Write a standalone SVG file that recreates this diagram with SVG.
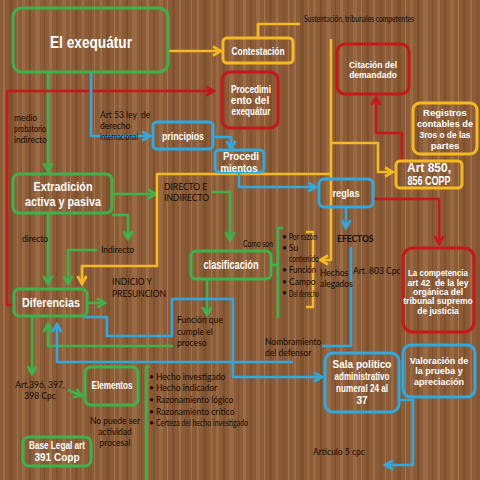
<svg xmlns="http://www.w3.org/2000/svg" width="480" height="480" viewBox="0 0 480 480">
<defs>
<pattern id="wood" x="0" y="0" width="97" height="480" patternUnits="userSpaceOnUse">
<rect width="97" height="480" fill="#8b5c37"/>
<rect x="3" width="2" height="480" fill="#a67650" opacity="0.7"/>
<rect x="9" width="4" height="480" fill="#744726" opacity="0.5"/>
<rect x="17" width="1" height="480" fill="#b4875d" opacity="0.6"/>
<rect x="22" width="3" height="480" fill="#9c6d45" opacity="0.8"/>
<rect x="29" width="2" height="480" fill="#6d4122" opacity="0.5"/>
<rect x="35" width="5" height="480" fill="#a2734b" opacity="0.6"/>
<rect x="44" width="1" height="480" fill="#704424" opacity="0.6"/>
<rect x="49" width="3" height="480" fill="#ae8056" opacity="0.5"/>
<rect x="56" width="2" height="480" fill="#78492a" opacity="0.6"/>
<rect x="62" width="4" height="480" fill="#9e6f47" opacity="0.7"/>
<rect x="70" width="1" height="480" fill="#b58a60" opacity="0.6"/>
<rect x="75" width="3" height="480" fill="#744626" opacity="0.5"/>
<rect x="82" width="2" height="480" fill="#a87a52" opacity="0.6"/>
<rect x="88" width="4" height="480" fill="#7c4e2c" opacity="0.4"/>
<rect x="94" width="1" height="480" fill="#b0835a" opacity="0.6"/>
</pattern>
<marker id="ag" viewBox="0 0 12 12" markerWidth="12" markerHeight="12" refX="10" refY="6" orient="auto" markerUnits="userSpaceOnUse"><path d="M2,1.5 L10,6 L2,10.5" fill="none" stroke="#3cb44b" stroke-width="2.6"/></marker>
<marker id="ay" viewBox="0 0 12 12" markerWidth="12" markerHeight="12" refX="10" refY="6" orient="auto" markerUnits="userSpaceOnUse"><path d="M2,1.5 L10,6 L2,10.5" fill="none" stroke="#f6b921" stroke-width="2.6"/></marker>
<marker id="ar" viewBox="0 0 12 12" markerWidth="12" markerHeight="12" refX="10" refY="6" orient="auto" markerUnits="userSpaceOnUse"><path d="M2,1.5 L10,6 L2,10.5" fill="none" stroke="#c8161d" stroke-width="2.6"/></marker>
<marker id="ab" viewBox="0 0 12 12" markerWidth="12" markerHeight="12" refX="10" refY="6" orient="auto" markerUnits="userSpaceOnUse"><path d="M2,1.5 L10,6 L2,10.5" fill="none" stroke="#2fa9e0" stroke-width="2.6"/></marker>
</defs>
<style>
.box{fill:none;stroke-width:3}
.g{stroke:#3cb44b}.y{stroke:#f6b921}.r{stroke:#c8161d}.b{stroke:#2fa9e0}
.ln{fill:none;stroke-width:2.6;stroke-linejoin:round}
.w{fill:#ffffff;font-family:"Liberation Sans",Arial,sans-serif;font-weight:bold;text-anchor:middle}
.d{fill:#120a04;font-family:Lato,"Open Sans",sans-serif;font-size:8.5px}
.c{text-anchor:middle}
</style>
<rect width="480" height="480" fill="url(#wood)"/>

<g id="connectors">
<polyline class="ln g" points="48,72 48,171" marker-end="url(#ag)"/>
<polyline class="ln g" points="112,194 156,194" marker-end="url(#ag)"/>
<polyline class="ln g" points="112,215 128,215 128,239" marker-end="url(#ag)"/>
<polyline class="ln g" points="48,213 48,284" marker-end="url(#ag)"/>
<polyline class="ln g" points="97,250 68,250 68,284" marker-end="url(#ag)"/>
<polyline class="ln g" points="87,303 105,303" marker-end="url(#ag)"/>
<polyline class="ln g" points="212,192 230,192 230,240" marker-end="url(#ag)"/>
<polyline class="ln g" points="207,279 207,315" marker-end="url(#ag)"/>
<polyline class="ln g" points="173,346 48,346 48,324" marker-end="url(#ag)"/>
<polyline class="ln g" points="32,316 32,374" marker-end="url(#ag)"/>
<polyline class="ln g" points="68,390 82,396" marker-end="url(#ag)"/>
<path class="ln g" d="M283,228 L278,228 L278,318 M272,265 L278,265"/>
<path class="ln g" d="M150,367 L146,367 L146,480"/>

<polyline class="ln y" points="168,51 221,51" marker-end="url(#ay)"/>
<polyline class="ln y" points="258,38 258,24 300,24"/>
<polyline class="ln y" points="331,39 331,260 320,260" marker-end="url(#ay)"/>
<path class="ln y" d="M306,232 L313,232 L313,307 L306,307"/>
<polyline class="ln y" points="331,174 157,174 157,266 82,266 82,284" marker-end="url(#ay)"/>
<polyline class="ln y" points="331,143 378,143 378,172 393,172" marker-end="url(#ay)"/>

<polyline class="ln r" points="14,305 7,305 7,91 214,91" marker-end="url(#ar)"/>
<polyline class="ln r" points="402,160 402,133 376,133 376,97" marker-end="url(#ar)"/>
<polyline class="ln r" points="373,199 439,199 439,244" marker-end="url(#ar)"/>

<polyline class="ln b" points="91,72 91,136 150,136" marker-end="url(#ab)"/>
<polyline class="ln b" points="213,137 231,137 231,149" marker-end="url(#ab)"/>
<polyline class="ln b" points="239,172 239,187 316,187" marker-end="url(#ab)"/>
<polyline class="ln b" points="346,207 346,228" marker-end="url(#ab)"/>
<polyline class="ln b" points="351,247 351,346 322,346"/>
<polyline class="ln b" points="84,317 107,317 107,336 172,336 172,299 233,299 233,377 322,377" marker-end="url(#ab)"/>
<polyline class="ln b" points="293,362 57,362 57,324" marker-end="url(#ab)"/>
<polyline class="ln b" points="399,400 413,400 413,465 385,465" marker-end="url(#ab)"/>
</g>

<g id="exequatur"><rect class="box g" x="13" y="8" width="155" height="64" rx="9"/><text class="w" x="91" y="48" font-size="17" textLength="82" lengthAdjust="spacingAndGlyphs">El exequátur</text></g>
<g id="contestacion"><rect class="box y" x="223" y="38" width="70" height="25" rx="4"/><text class="w" x="258" y="55" font-size="11" textLength="53" lengthAdjust="spacingAndGlyphs">Contestación</text></g>
<g id="procedimiento-exequatur"><rect class="box r" x="222" y="72" width="56" height="56" rx="8"/>
<text class="w" x="251" y="93" font-size="10" textLength="40" lengthAdjust="spacingAndGlyphs">Procedimi</text>
<text class="w" x="250" y="104" font-size="10">ento del</text>
<text class="w" x="251" y="115" font-size="10" textLength="39" lengthAdjust="spacingAndGlyphs">exequátur</text></g>
<g id="principios"><rect class="box b" x="153" y="122" width="60" height="27" rx="4"/><text class="w" x="183" y="140" font-size="11" textLength="42" lengthAdjust="spacingAndGlyphs">principios</text></g>
<g id="procedimientos"><rect class="box b" x="215" y="150" width="49" height="22" rx="4"/>
<text class="w" x="241" y="160" font-size="10.5" textLength="36" lengthAdjust="spacingAndGlyphs">Procedi</text>
<text class="w" x="239" y="171.5" font-size="10.5" textLength="37" lengthAdjust="spacingAndGlyphs">mientos</text></g>
<g id="reglas"><rect class="box b" x="319" y="179" width="54" height="28" rx="5"/><text class="w" x="346" y="197" font-size="11" textLength="27" lengthAdjust="spacingAndGlyphs">reglas</text></g>
<g id="citacion"><rect class="box r" x="337" y="44" width="72" height="50" rx="8"/>
<text class="w" x="373" y="68" font-size="8.5">Citación del</text>
<text class="w" x="373" y="78" font-size="8.5">demandado</text></g>
<g id="registros"><rect class="box y" x="413" y="103" width="64" height="51" rx="7"/>
<text class="w" x="445" y="116" font-size="9.5">Registros</text>
<text class="w" x="445" y="127" font-size="9.5" textLength="56" lengthAdjust="spacingAndGlyphs">contables de</text>
<text class="w" x="445" y="138" font-size="9.5" textLength="51" lengthAdjust="spacingAndGlyphs">3ros o de las</text>
<text class="w" x="445" y="149" font-size="9.5">partes</text></g>
<g id="art850"><rect class="box y" x="396" y="161" width="66" height="27" rx="4"/>
<text class="w" x="429" y="172" font-size="12">Art 850,</text>
<text class="w" x="429" y="185" font-size="12" textLength="43" lengthAdjust="spacingAndGlyphs">856 COPP</text></g>
<g id="competencia"><rect class="box r" x="403" y="248" width="71" height="84" rx="10"/>
<text class="w" x="438" y="276" font-size="8.5" textLength="60" lengthAdjust="spacingAndGlyphs">La competencia</text>
<text class="w" x="438" y="286" font-size="8.5" xml:space="preserve">art 42  de la ley</text>
<text class="w" x="438" y="295" font-size="8.5">orgánica del</text>
<text class="w" x="438" y="304" font-size="8.5">tribunal supremo</text>
<text class="w" x="438" y="314" font-size="8.5">de justicia</text></g>
<g id="clasificacion"><rect class="box g" x="191" y="251" width="80" height="28" rx="5"/><text class="w" x="231" y="269" font-size="12" textLength="55" lengthAdjust="spacingAndGlyphs">clasificación</text></g>
<g id="extradicion"><rect class="box g" x="13" y="174" width="99" height="39" rx="6"/>
<text class="w" x="63" y="191" font-size="13" textLength="59" lengthAdjust="spacingAndGlyphs">Extradición</text>
<text class="w" x="63" y="206" font-size="13" textLength="76" lengthAdjust="spacingAndGlyphs">activa y pasiva</text></g>
<g id="diferencias"><rect class="box g" x="14" y="289" width="73" height="27" rx="5"/><text class="w" x="51" y="307" font-size="13" textLength="58" lengthAdjust="spacingAndGlyphs">Diferencias</text></g>
<g id="sala"><rect class="box b" x="325" y="353" width="74" height="59" rx="8"/>
<text class="w" x="362" y="368" font-size="10">Sala politico</text>
<text class="w" x="362" y="380" font-size="10" textLength="55" lengthAdjust="spacingAndGlyphs">administrativo</text>
<text class="w" x="362" y="392" font-size="10" textLength="52" lengthAdjust="spacingAndGlyphs">numeral 24 al</text>
<text class="w" x="362" y="404" font-size="10">37</text></g>
<g id="valoracion"><rect class="box b" x="403" y="345" width="72" height="52" rx="8"/>
<text class="w" x="439" y="364" font-size="9">Valoración de</text>
<text class="w" x="439" y="374" font-size="9">la prueba y</text>
<text class="w" x="439" y="385" font-size="9">apreciación</text></g>
<g id="elementos"><rect class="box g" x="85" y="367" width="53" height="38" rx="6"/><text class="w" x="112" y="389" font-size="10" textLength="41" lengthAdjust="spacingAndGlyphs">Elementos</text></g>
<g id="base-legal"><rect class="box g" x="23" y="437" width="68" height="29" rx="6"/>
<text class="w" x="57" y="449" font-size="10" textLength="56" lengthAdjust="spacingAndGlyphs">Base Legal art</text>
<text class="w" x="57" y="461" font-size="10">391 Copp</text></g>

<g id="labels">
<text class="d" x="304" y="22" textLength="110" lengthAdjust="spacingAndGlyphs">Sustentación, tribunales competentes</text>
<text class="d" x="14" y="121" font-size="8">medio</text>
<text class="d" x="14" y="132" font-size="8" textLength="32" lengthAdjust="spacingAndGlyphs">probatorio</text>
<text class="d" x="14" y="143" font-size="8">indirecto</text>
<text class="d" x="100" y="118" xml:space="preserve">Art 53 ley  de</text>
<text class="d" x="100" y="129">derecho</text>
<text class="d" x="100" y="140" textLength="38" lengthAdjust="spacingAndGlyphs">internacional</text>
<text class="d" x="164" y="190" font-size="8">DIRECTO E</text>
<text class="d" x="164" y="201" font-size="8">INDIRECTO</text>
<text class="d" x="22" y="242" font-size="8">directo</text>
<text class="d" x="101" y="253" font-size="8">Indirecto</text>
<text class="d" x="112" y="285" font-size="8">INDICIO Y</text>
<text class="d" x="112" y="297" font-size="8">PRESUNCION</text>
<text class="d" x="243" y="247" textLength="30" lengthAdjust="spacingAndGlyphs">Como son</text>
<text class="d" x="282" y="240" font-size="8">•</text>
<text class="d" x="282" y="251" font-size="8">•</text>
<text class="d" x="282" y="273" font-size="8">•</text>
<text class="d" x="282" y="285" font-size="8">•</text>
<text class="d" x="282" y="296" font-size="8">•</text>
<text class="d" x="289" y="240" font-size="9" textLength="28" lengthAdjust="spacingAndGlyphs">Por razón</text>
<text class="d" x="289" y="251" font-size="9">Su</text>
<text class="d" x="289" y="262" font-size="9" textLength="30" lengthAdjust="spacingAndGlyphs">contenido</text>
<text class="d" x="289" y="273" font-size="9" textLength="27" lengthAdjust="spacingAndGlyphs">Función</text>
<text class="d" x="289" y="285" font-size="9">Campo</text>
<text class="d" x="289" y="297" font-size="9" textLength="30" lengthAdjust="spacingAndGlyphs">Del derecho</text>
<text class="d" x="320" y="276" font-size="9">Hechos</text>
<text class="d" x="320" y="287" font-size="9">alegados</text>
<text class="d" x="337" y="242" font-size="9" font-weight="bold">EFECTOS</text>
<text class="d" x="353" y="274">Art. 803 Cpc</text>
<text class="d" x="177" y="323">Función que</text>
<text class="d" x="177" y="335">cumple el</text>
<text class="d" x="177" y="346">proceso</text>
<text class="d" x="265" y="345">Nombramiento</text>
<text class="d" x="265" y="356">del defensor</text>
<text class="d c" x="40" y="388" font-size="8">Art.396, 397,</text>
<text class="d c" x="40" y="399" font-size="8">398 Cpc</text>
<text class="d c" x="115" y="424" font-size="8">No puede ser</text>
<text class="d c" x="115" y="435" font-size="8">actividad</text>
<text class="d c" x="115" y="446" font-size="8">procesal</text>
<text class="d" x="149" y="380" font-size="8">•</text>
<text class="d" x="149" y="391" font-size="8">•</text>
<text class="d" x="149" y="403" font-size="8">•</text>
<text class="d" x="149" y="415" font-size="8">•</text>
<text class="d" x="149" y="426" font-size="8">•</text>
<text class="d" x="156" y="380" font-size="9">Hecho investigado</text>
<text class="d" x="156" y="391" font-size="9">Hecho indicador</text>
<text class="d" x="156" y="403" font-size="9">Razonamiento lógico</text>
<text class="d" x="156" y="415" font-size="9">Razonamiento crítico</text>
<text class="d" x="156" y="426" font-size="8.5" textLength="92" lengthAdjust="spacingAndGlyphs">Certeza del hecho investigado</text>
<text class="d" x="313" y="455" font-size="9">Articulo 5 cpc</text>
</g>
</svg>
